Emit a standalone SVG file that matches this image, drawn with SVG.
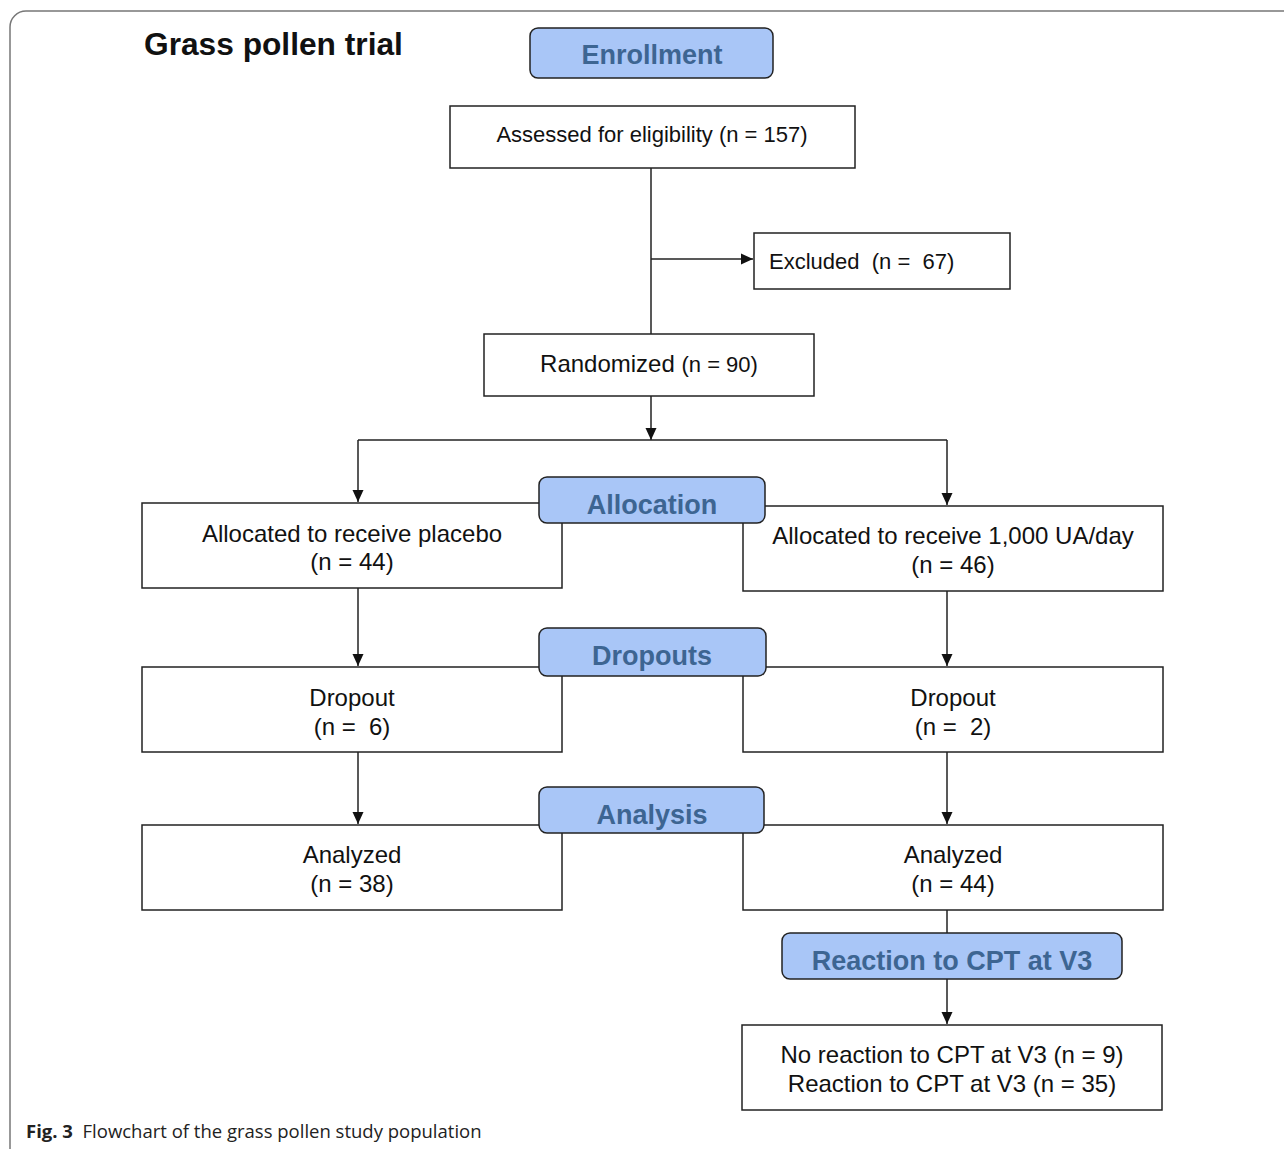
<svg xmlns="http://www.w3.org/2000/svg" width="1284" height="1149" viewBox="0 0 1284 1149">
<style>
.box{fill:#fff;stroke:#222;stroke-width:1.5}
.lbl{fill:#a9c6f7;stroke:#222;stroke-width:1.5}
.t{font-family:"Liberation Sans",Arial,sans-serif;font-size:24px;fill:#111;text-anchor:middle}
.ts{font-size:22px}
.h{font-family:"Liberation Sans",Arial,sans-serif;font-size:27px;font-weight:bold;fill:#3d6592;text-anchor:middle}
.c{fill:none;stroke:#222;stroke-width:1.5}
</style>
<defs>
<marker id="ah" viewBox="0 0 12 12" refX="12" refY="6" markerWidth="12" markerHeight="12" markerUnits="userSpaceOnUse" orient="auto">
<path d="M0,0.5 L12,6 L0,11.5 z" fill="#111"/>
</marker>
</defs>
<rect x="10" y="11" width="1300" height="1160" rx="16" fill="#fff" stroke="#777" stroke-width="1.5"/>
<text x="144" y="55" font-family="Liberation Sans,Arial,sans-serif" font-size="31.7" font-weight="bold" fill="#111">Grass pollen trial</text>
<g id="connectors">
<path class="c" d="M651,168 V334"/>
<path class="c" d="M651,259 H753" marker-end="url(#ah)"/>
<path class="c" d="M651,396 V440" marker-end="url(#ah)"/>
<path class="c" d="M358,440 H947"/>
<path class="c" d="M358,440 V502" marker-end="url(#ah)"/>
<path class="c" d="M947,440 V505" marker-end="url(#ah)"/>
<path class="c" d="M358,588 V666" marker-end="url(#ah)"/>
<path class="c" d="M947,591 V666" marker-end="url(#ah)"/>
<path class="c" d="M358,752 V824" marker-end="url(#ah)"/>
<path class="c" d="M947,752 V824" marker-end="url(#ah)"/>
<path class="c" d="M947,910 V933"/>
<path class="c" d="M947,979 V1024" marker-end="url(#ah)"/>
</g>
<g id="assessed"><rect class="box" x="450" y="106" width="405" height="62"/><text class="t ts" x="652" y="142">Assessed for eligibility (n = 157)</text></g>
<g id="excluded"><rect class="box" x="754" y="233" width="256" height="56"/><text class="t ts" x="769" y="269" style="text-anchor:start" xml:space="preserve">Excluded  (n =  67)</text></g>
<g id="randomized"><rect class="box" x="484" y="334" width="330" height="62"/><text class="t" x="649" y="372">Randomized <tspan font-size="22">(n = 90)</tspan></text></g>
<g id="placebo"><rect class="box" x="142" y="503" width="420" height="85"/><text class="t" x="352" y="542">Allocated to receive placebo</text><text class="t" x="352" y="570">(n = 44)</text></g>
<g id="active"><rect class="box" x="743" y="506" width="420" height="85"/><text class="t" x="953" y="544">Allocated to receive 1,000 UA/day</text><text class="t" x="953" y="573">(n = 46)</text></g>
<g id="dropout-left"><rect class="box" x="142" y="667" width="420" height="85"/><text class="t" x="352" y="706">Dropout</text><text class="t" x="352" y="735" xml:space="preserve">(n =  6)</text></g>
<g id="dropout-right"><rect class="box" x="743" y="667" width="420" height="85"/><text class="t" x="953" y="706">Dropout</text><text class="t" x="953" y="735" xml:space="preserve">(n =  2)</text></g>
<g id="analyzed-left"><rect class="box" x="142" y="825" width="420" height="85"/><text class="t" x="352" y="863">Analyzed</text><text class="t" x="352" y="892">(n = 38)</text></g>
<g id="analyzed-right"><rect class="box" x="743" y="825" width="420" height="85"/><text class="t" x="953" y="863">Analyzed</text><text class="t" x="953" y="892">(n = 44)</text></g>
<g id="cpt"><rect class="box" x="742" y="1025" width="420" height="85"/><text class="t" x="952" y="1063">No reaction to CPT at V3 (n = 9)</text><text class="t" x="952" y="1092">Reaction to CPT at V3 (n = 35)</text></g>
<g id="enrollment"><rect class="lbl" x="530" y="28" width="243" height="50" rx="8"/><text class="h" x="652" y="64">Enrollment</text></g>
<g id="allocation"><rect class="lbl" x="539" y="477" width="226" height="46" rx="8"/><text class="h" x="652" y="514">Allocation</text></g>
<g id="dropouts"><rect class="lbl" x="539" y="628" width="227" height="48" rx="8"/><text class="h" x="652" y="665">Dropouts</text></g>
<g id="analysis"><rect class="lbl" x="539" y="787" width="225" height="46" rx="8"/><text class="h" x="652" y="824">Analysis</text></g>
<g id="reaction"><rect class="lbl" x="782" y="933" width="340" height="46" rx="8"/><text class="h" x="952" y="970">Reaction to CPT at V3</text></g>
<text x="26" y="1138" font-family="Open Sans,sans-serif" font-size="18.5" fill="#222" xml:space="preserve"><tspan font-weight="bold">Fig. 3</tspan>  Flowchart of the grass pollen study population</text>
</svg>
